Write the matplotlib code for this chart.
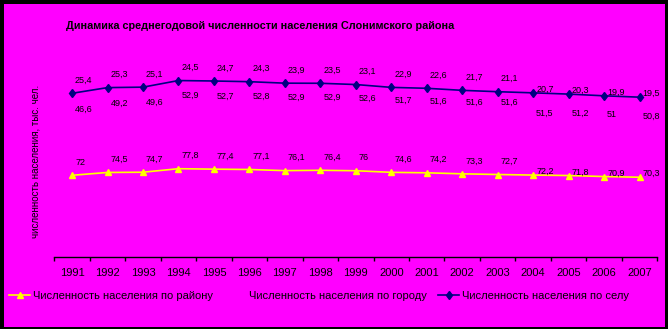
import numpy as np
import matplotlib
matplotlib.use('Agg')
import matplotlib.pyplot as plt
from matplotlib.patches import Rectangle

years = ['1991', '1992', '1993', '1994', '1995', '1996', '1997', '1998', '1999',
         '2000', '2001', '2002', '2003', '2004', '2005', '2006', '2007']
district = [72, 74.5, 74.7, 77.8, 77.4, 77.1, 76.1, 76.4, 76, 74.6, 74.2, 73.3, 72.7, 72.2, 71.8, 70.9, 70.3]
city = [46.6, 49.2, 49.6, 52.9, 52.7, 52.8, 52.9, 52.9, 52.6, 51.7, 51.6, 51.6, 51.6, 51.5, 51.2, 51, 50.8]
village = [25.4, 25.3, 25.1, 24.5, 24.7, 24.3, 23.9, 23.5, 23.1, 22.9, 22.6, 21.7, 21.1, 20.7, 20.3, 19.9, 19.5]

labels = ['Численность населения по району',
          'Численность населения по городу',
          'Численность населения по селу']

MAGENTA = '#FF00FF'
plt.rcParams['font.family'] = ['Liberation Sans', 'DejaVu Sans']

W, H = 668, 329
fig = plt.figure(figsize=(W / 100, H / 100), dpi=100, facecolor='black')
fig.patches.append(Rectangle((4 / W, 2 / H), 661 / W, 323 / H, transform=fig.transFigure,
                             facecolor=MAGENTA, edgecolor='none', zorder=-5))

# stacked line chart (as in the Excel original)
ax = fig.add_axes([54.3 / W, (H - 257.3) / H, 603 / W, 205 / H])
ax.set_facecolor('none')

x = np.arange(len(years))
d = np.array(district)
dc = d + np.array(city)
dcv = dc + np.array(village)

ax.plot(x, d, color='#FFFF00', lw=1.2, marker='^', ms=5, label=labels[0], zorder=3)
ax.plot(x, dc, color=MAGENTA, lw=1.2, label=labels[1], zorder=2)
ax.plot(x, dcv, color='#000080', lw=1.2, marker='d', ms=4.5, label=labels[2], zorder=3)

ax.set_xlim(-0.5, len(years) - 0.5)
ax.set_ylim(0, 180)

# data labels: above and to the right of each point
px = 0.72
for i in range(len(years)):
    lift = 3.5 if int(years[i]) >= 2004 else 13
    for yv, txt in ((d[i], district[i]), (dc[i], city[i]), (dcv[i], village[i])):
        s = ('%g' % txt).replace('.', ',')
        ax.annotate(s, (x[i], yv), xytext=(3 * px, lift * px), textcoords='offset points',
                    ha='left', va='center', fontsize=6.5, color='black')

for side in ('left', 'right', 'top'):
    ax.spines[side].set_visible(False)
ax.spines['bottom'].set_linewidth(1)
ax.yaxis.set_visible(False)
ax.set_xticks(x)
ax.set_xticklabels(years, fontsize=8)
ax.set_xticks(np.arange(-0.5, len(years)), minor=True)
ax.tick_params(axis='x', which='major', length=0, pad=8)
ax.tick_params(axis='x', which='minor', length=3, width=1, direction='out')

fig.text(260 / W, 1 - 25.7 / H, 'Динамика среднегодовой численности населения Слонимского района',
         ha='center', va='center', fontsize=7.8, fontweight='bold')
fig.text(36 / W, 1 - 161 / H, 'численность населения, тыс. чел.', rotation=90,
         ha='center', va='center', fontsize=7)

fig.legend(loc='center left', bbox_to_anchor=(9 / W, 1 - 296 / H), ncol=3, frameon=False,
           fontsize=8, handlelength=1.9, handletextpad=0.3, columnspacing=1.0,
           borderpad=0, borderaxespad=0)

fig.savefig('out.png', dpi=100, facecolor=fig.get_facecolor())
